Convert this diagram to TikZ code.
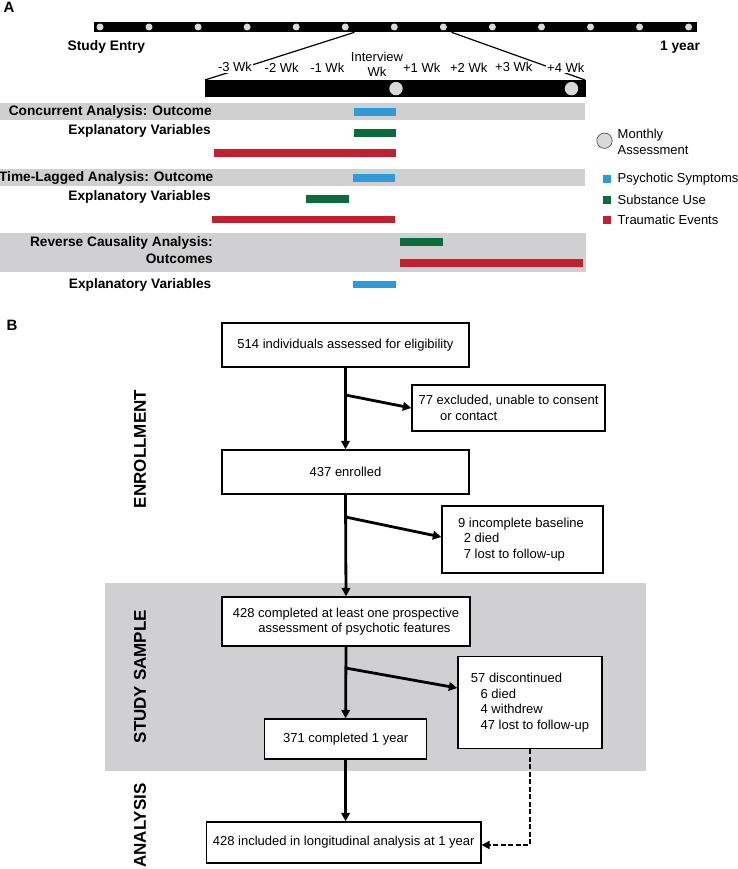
\documentclass[tikz,border=0pt]{standalone}
\usepackage{fontspec}
\setmainfont{Liberation Sans}
\usetikzlibrary{arrows.meta,calc}
\definecolor{bandgray}{HTML}{D0D0D2}
\definecolor{dotgray}{HTML}{D9D9D9}
\definecolor{cblue}{HTML}{2E9AD6}
\definecolor{cgreen}{HTML}{0B6B3B}
\definecolor{cred}{HTML}{C3202F}
\begin{document}
\begin{tikzpicture}[x=1pt,y=-1pt,
  panel/.style={font=\fontsize{15}{15}\selectfont\bfseries, inner sep=0pt},
  lab/.style={font=\fontsize{13.7}{15}\selectfont\bfseries, anchor=east, inner sep=0pt},
  endlab/.style={font=\fontsize{13.8}{15}\selectfont\bfseries, inner sep=0pt},
  wk/.style={font=\fontsize{13}{15}\selectfont, fill=white, inner sep=1pt, align=center},
  leg/.style={font=\fontsize{13}{15.5}\selectfont, anchor=west, inner sep=0pt, align=left},
  fbox/.style={draw, line width=1.3pt, fill=white, font=\fontsize{13}{15.5}\selectfont, align=left},
  flow/.style={line width=2.8pt, -{Triangle[length=8.5pt,width=8.5pt]}},
  dflow/.style={line width=2.3pt, dash pattern=on 5pt off 2.5pt, -{Triangle[length=8pt,width=8pt]}},
  side/.style={font=\fontsize{17}{17}\selectfont\bfseries, rotate=90, inner sep=0pt},
  zoomline/.style={line width=1.2pt}
]
\useasboundingbox (0,0) rectangle (737,869);

% ---------------- Panel A ----------------
\node[panel] (pa) at (9,7.5) {A};

% top year bar
\fill[black] (94,21.7) rectangle (696.5,32.3);
\foreach \i in {0,...,12} \fill[dotgray] ({100+49.05*\i},27) circle (3.5);
\node[endlab] (entry) at (106.4,46.7) {Study Entry};
\node[endlab] (year) at (680,46.7) {1 year};

% zoom lines
\coordinate (zs1) at (354.5,32.3);
\coordinate (zs2) at (451.5,32.3);
\coordinate (ze1) at (205,80);
\coordinate (ze2) at (585,80);
\draw[zoomline] (zs1) -- (ze1);
\draw[zoomline] (zs2) -- (ze2);

% week labels
\node[wk] (w1) at (235,67.3) {-3 Wk};
\node[wk] (w2) at (281.7,67.3) {-2 Wk};
\node[wk] (w3) at (327.3,67.3) {-1 Wk};
\node[wk] (w4) at (377,64.2) {Interview\\Wk};
\node[wk] (w5) at (421.7,67.3) {+1 Wk};
\node[wk] (w6) at (468.7,67.3) {+2 Wk};
\node[wk] (w7) at (513.8,67.3) {+3 Wk};
\node[wk] (w8) at (565.8,67.3) {+4 Wk};

% week bar
\fill[black] (205,80) rectangle (586,97.3);
\fill[dotgray] (396,88.6) circle (6.7);
\fill[dotgray] (571.5,88.6) circle (6.7);

% bands
\fill[bandgray] (0,103.3) rectangle (585,120);
\fill[bandgray] (0,169.3) rectangle (585,186);
\fill[bandgray] (0,232.7) rectangle (586,271.7);

% labels
\node[lab] (l1) at (212,112.2) {Concurrent Analysis: Outcome};
\node[lab] (l2) at (211,131) {Explanatory Variables};
\node[lab] (l3) at (213.5,177.5) {Time-Lagged Analysis: Outcome};
\node[lab] (l4) at (211,197) {Explanatory Variables};
\node[lab] (l5) at (213,242.7) {Reverse Causality Analysis:};
\node[lab] (l6) at (213,258.7) {Outcomes};
\node[lab] (l7) at (211.5,285) {Explanatory Variables};

% bars
\fill[cblue]  (354,108.5) rectangle (396,116.3);
\fill[cgreen] (354,129.3) rectangle (396,136.7);
\fill[cred]   (214,149.3) rectangle (396,157.3);
\fill[cblue]  (352.5,174.3) rectangle (394.7,182.3);
\fill[cgreen] (306.4,195) rectangle (348.7,202.7);
\fill[cred]   (212.4,215.7) rectangle (394.7,223.3);
\fill[cgreen] (400.4,238.3) rectangle (443,246.3);
\fill[cred]   (400.4,259.3) rectangle (582.7,267.3);
\fill[cblue]  (353.4,280.7) rectangle (396,288.3);

% legend
\filldraw[fill=dotgray, draw=black!75, line width=0.6pt] (604.5,140.7) circle (7.7);
\node[leg] (lm) at (617.5,142) {Monthly\\Assessment};
\fill[cblue]  (603,175.5) rectangle (610.5,183);
\node[leg] (lp) at (617.5,179) {Psychotic Symptoms};
\fill[cgreen] (603,196) rectangle (610.5,203.5);
\node[leg] (ls) at (617.5,199.5) {Substance Use};
\fill[cred]   (603,216.3) rectangle (610.5,223.8);
\node[leg] (lt) at (617.5,220) {Traumatic Events};

% ---------------- Panel B ----------------
\node[panel] (pb) at (12,325.5) {B};

\fill[bandgray] (105,582.7) rectangle (646,771);

\node[side] (s1) at (140,449) {ENROLLMENT};
\node[side] (s2) at (140,676.7) {STUDY SAMPLE};
\node[side] (s3) at (140,825.5) {ANALYSIS};

\node[fbox, minimum width=247pt, minimum height=44pt] (b1) at (345.5,345) {514 individuals assessed for eligibility};
\node[fbox, minimum width=193pt, minimum height=46pt] (bex) at (508.5,408) {77 excluded, unable to consent\\\hspace*{21.7pt}or contact};
\node[fbox, minimum width=247pt, minimum height=44pt] (b2) at (345.5,472) {437 enrolled};
\node[fbox, minimum width=161pt, minimum height=67pt] (b9) at (522.5,539.5) {\hspace*{-3pt}9 incomplete baseline\\\hspace*{2.7pt}2 died\\\hspace*{2.7pt}7 lost to follow-up};
\node[fbox, minimum width=248pt, minimum height=49pt] (b3) at (346,621.5) {428 completed at least one prospective\\\hspace*{25.4pt}assessment of psychotic features};
\node[fbox, minimum width=162pt, minimum height=40pt] (b4) at (345.6,739) {371 completed 1 year};
\node[fbox, minimum width=144pt, minimum height=92pt] (b57) at (530,702.5) {57 discontinued\\\hspace*{9.7pt}6 died\\\hspace*{9.7pt}4 withdrew\\\hspace*{9.7pt}47 lost to follow-up};
\node[fbox, minimum width=274.5pt, minimum height=41pt] (b5) at (343.7,842.5) {428 included in longitudinal analysis at 1 year};

\coordinate (j1) at (345.5,395);
\coordinate (j2) at (345.5,517);
\coordinate (j3) at (345.5,668);

\draw[flow] (b1.south) -- (b2.north);
\draw[flow] (j1) -- (bex.west);
\draw[flow] (b2.south) -- (b3.north);
\draw[flow] (j2) -- ([yshift=2.5pt]b9.west);
\draw[flow] (b3.south) -- (b4.north);
\draw[flow] (j3) -- ([yshift=14.5pt]b57.west);
\draw[flow] (b4.south) -- (b4.south |- b5.north);
\draw[dflow] (b57.south) |- ([yshift=-2.5pt]b5.east);
\end{tikzpicture}
\end{document}
